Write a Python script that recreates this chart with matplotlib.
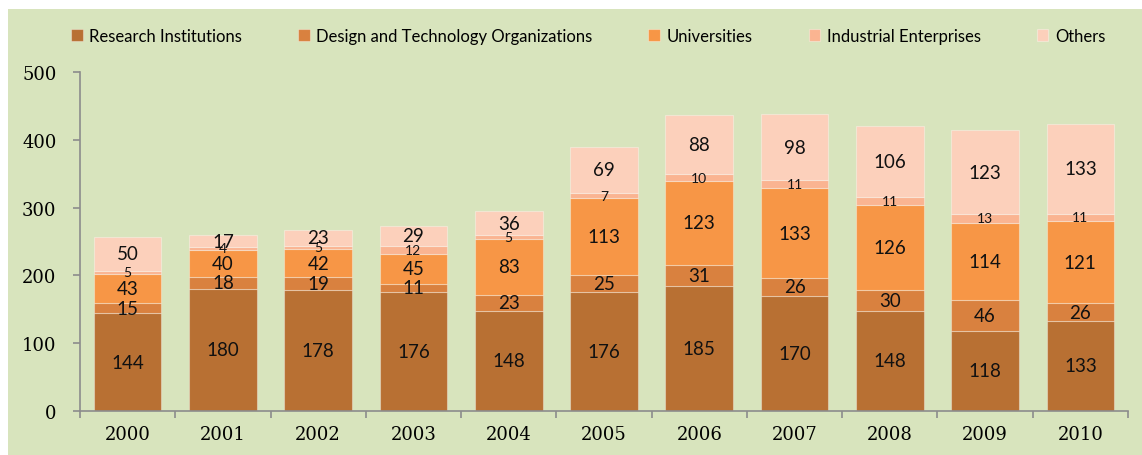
import numpy as np
import matplotlib.pyplot as plt
from matplotlib.patches import Rectangle

# data
years = ['2000', '2001', '2002', '2003', '2004', '2005', '2006', '2007', '2008', '2009', '2010']
research = [144, 180, 178, 176, 148, 176, 185, 170, 148, 118, 133]
design = [15, 18, 19, 11, 23, 25, 31, 26, 30, 46, 26]
universities = [43, 40, 42, 45, 83, 113, 123, 133, 126, 114, 121]
industrial = [5, 4, 5, 12, 5, 7, 10, 11, 11, 13, 11]
others = [50, 17, 23, 29, 36, 69, 88, 98, 106, 123, 133]

series = [
    ('Research Institutions', research, '#B87033'),
    ('Design and Technology Organizations', design, '#D9813F'),
    ('Universities', universities, '#F79646'),
    ('Industrial Enterprises', industrial, '#FAB491'),
    ('Others', others, '#FCD0BB'),
]

bg = '#D8E4BD'
fig = plt.figure(figsize=(11.42, 4.56), dpi=100)
fig.patch.set_facecolor('white')
fig.patches.append(Rectangle((8 / 1142, 0), 1 - 8 / 1142, 1 - 10 / 456,
                             transform=fig.transFigure, facecolor=bg,
                             edgecolor='none', zorder=-10))

ax = fig.add_axes([80 / 1142, 1 - 412 / 456, 1048 / 1142, 339 / 456])
ax.set_facecolor('none')

x = np.arange(len(years))
bottom = np.zeros(len(years))
for name, vals, color in series:
    vals = np.array(vals, dtype=float)
    ax.bar(x, vals, 0.71, bottom=bottom, color=color, label=name,
           edgecolor=(1, 1, 1, 0.35), linewidth=0.8, zorder=2)
    fs = 10 if name == 'Industrial Enterprises' else 13.5
    for xi, b, v in zip(x, bottom, vals):
        ax.text(xi, b + v / 2, f'{int(v)}', ha='center', va='center',
                fontsize=fs, family='Lato', color='#111111', zorder=3)
    bottom += vals

ax.set_xlim(-0.5, len(years) - 0.5)
ax.set_ylim(0, 500)
ax.set_yticks(range(0, 501, 100))
ax.set_xticks(x)
ax.set_xticklabels(years)
ax.set_xticks(np.arange(-0.5, len(years)), minor=True)
ax.tick_params(axis='x', which='major', length=0, pad=10)
ax.tick_params(axis='x', which='minor', length=5, color='#8C8C8C', width=1.2)
ax.tick_params(axis='y', length=5, color='#8C8C8C', width=1.2, pad=12)
for lbl in ax.get_xticklabels() + ax.get_yticklabels():
    lbl.set_family('DejaVu Serif')
    lbl.set_fontsize(13)
for s in ['top', 'right']:
    ax.spines[s].set_visible(False)
for s in ['left', 'bottom']:
    ax.spines[s].set_color('#8C8C8C')
    ax.spines[s].set_linewidth(1.2)

leg = ax.legend(loc='center', bbox_to_anchor=(0.515, 1 - 37 / 456), bbox_transform=fig.transFigure,
                ncol=5, frameon=False, handlelength=0.7, handleheight=0.7,
                handletextpad=0.4, columnspacing=3.35, prop={'family': 'Lato', 'size': 12})

plt.savefig('out.png', dpi=100, facecolor=fig.get_facecolor())
